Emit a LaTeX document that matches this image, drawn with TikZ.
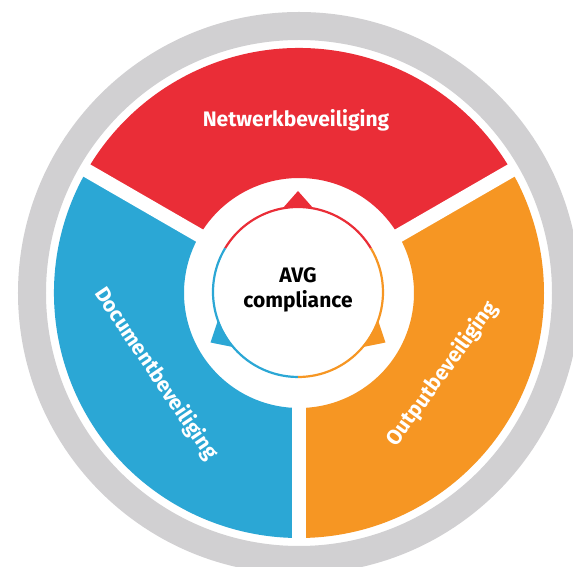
\documentclass[tikz,border=0pt]{standalone}
\usepackage{fontspec}
\setmainfont{Fira Sans}
\definecolor{cred}{RGB}{234,45,55}
\definecolor{cblue}{RGB}{43,167,213}
\definecolor{corange}{RGB}{246,150,35}
\definecolor{cgrey}{RGB}{209,208,210}
\tikzset{
  seglabel/.style={text=white, font=\fontsize{21}{25}\selectfont\bfseries, anchor=mid, inner sep=0pt},
  centerlabel/.style={text=black, font=\fontsize{21}{25}\selectfont\bfseries, align=center, inner sep=0pt},
  gap/.style={white, line width=14pt},
  innerarc/.style={line width=2.2pt}
}
\newcommand{\annsector}[3]{%
  \fill[#1] (#2:245) arc[start angle=#2, end angle=#3, radius=245] -- (#3:115) arc[start angle=#3, end angle=#2, radius=115] -- cycle;}
\newcommand{\pointer}[2]{%
  \fill[#1] ($(ic)+(#2-10:85.5)$) -- ($(ic)+(#2:101)$) -- ($(ic)+(#2+10:85.5)$) -- cycle;}
\usetikzlibrary{calc}
\begin{document}
\begin{tikzpicture}[x=1pt,y=1pt]
\useasboundingbox (-299,-274) rectangle (274,293);
\clip (-299,-274) rectangle (274,293);
\fill[white] (-299,-274) rectangle (274,293);
\coordinate (c) at (0,0);
\coordinate (ic) at (-1,1);
% grey outer ring
\draw[cgrey, line width=28pt] (c) circle[radius=267];
% coloured segments
\annsector{cred}{30}{150}
\annsector{corange}{-90}{30}
\annsector{cblue}{150}{270}
% white gaps
\coordinate (g1) at (150:250);
\coordinate (g2) at (30:250);
\coordinate (g3) at (270:250);
\draw[gap] (c) -- (g1);
\draw[gap] (c) -- (g2);
\draw[gap] (c) -- (g3);
% inner circle
\draw[innerarc, cred] ($(ic)+(31:85)$) arc[start angle=31, end angle=149, radius=85];
\draw[innerarc, cblue] ($(ic)+(149:85)$) arc[start angle=149, end angle=270, radius=85];
\draw[innerarc, corange] ($(ic)+(270:85)$) arc[start angle=270, end angle=391, radius=85];
\pointer{cred}{90}
\pointer{cblue}{210}
\pointer{corange}{-30}
% labels
\node[seglabel] (net) at (-3,169) {Netwerkbeveiliging};
\node[seglabel, rotate=-56] (doc) at (-146,-83) {Documentbeveiliging};
\node[seglabel, rotate=54] (out) at (146,-83) {Outputbeveiliging};
\node[centerlabel] (avg) at (-1,3) {AVG\\compliance};
\end{tikzpicture}
\end{document}
